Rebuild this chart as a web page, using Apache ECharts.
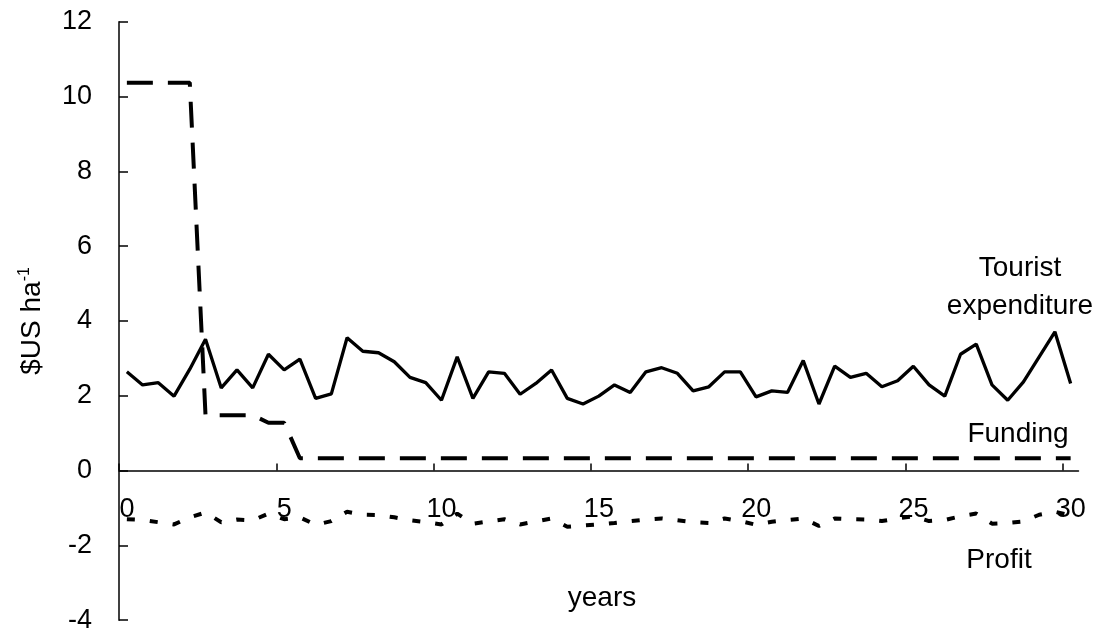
<!DOCTYPE html>
<html>
<head>
<meta charset="utf-8">
<script src="https://cdn.jsdelivr.net/npm/echarts@6/dist/echarts.min.js"></script>
<style>
html,body{margin:0;padding:0;background:#fff;}
#chart{width:1100px;height:633px;}
</style>
</head>
<body>
<div id="chart"></div>
<script>
var years = [0.25,0.75,1.25,1.75,2.25,2.75,3.25,3.75,4.25,4.75,
  5.25,5.75,6.25,6.75,7.25,7.75,8.25,8.75,9.25,9.75,
  10.25,10.75,11.25,11.75,12.25,12.75,13.25,13.75,14.25,14.75,
  15.25,15.75,16.25,16.75,17.25,17.75,18.25,18.75,19.25,19.75,
  20.25,20.75,21.25,21.75,22.25,22.75,23.25,23.75,24.25,24.75,
  25.25,25.75,26.25,26.75,27.25,27.75,28.25,28.75,29.25,29.75,
  30.25];
var touristExpenditure = [2.64,2.29,2.35,1.99,2.71,3.51,2.21,2.69,2.21,3.11,
  2.69,2.98,1.93,2.05,3.55,3.19,3.15,2.91,2.49,2.35,
  1.88,3.04,1.93,2.64,2.60,2.04,2.33,2.69,1.93,1.78,
  1.99,2.29,2.09,2.64,2.75,2.60,2.13,2.24,2.64,2.64,
  1.97,2.13,2.09,2.94,1.78,2.79,2.49,2.60,2.24,2.40,
  2.79,2.29,1.99,3.11,3.38,2.29,1.88,2.37,3.04,3.71,
  2.33];
var funding = [10.37,10.37,10.37,10.37,10.37,1.48,1.48,1.48,1.48,1.28,
  1.28,0.33,0.33,0.33,0.33,0.33,0.33,0.33,0.33,0.33,
  0.33,0.33,0.33,0.33,0.33,0.33,0.33,0.33,0.33,0.33,
  0.33,0.33,0.33,0.33,0.33,0.33,0.33,0.33,0.33,0.33,
  0.33,0.33,0.33,0.33,0.33,0.33,0.33,0.33,0.33,0.33,
  0.33,0.33,0.33,0.33,0.33,0.33,0.33,0.33,0.33,0.33,
  0.33];
var profit = [-1.30,-1.32,-1.38,-1.44,-1.25,-1.12,-1.38,-1.31,-1.33,-1.15,
  -1.30,-1.25,-1.45,-1.35,-1.10,-1.18,-1.19,-1.25,-1.33,-1.38,
  -1.44,-1.15,-1.42,-1.36,-1.30,-1.44,-1.36,-1.28,-1.50,-1.47,
  -1.44,-1.40,-1.35,-1.31,-1.28,-1.33,-1.38,-1.40,-1.28,-1.35,
  -1.45,-1.37,-1.32,-1.28,-1.48,-1.28,-1.30,-1.31,-1.35,-1.28,
  -1.22,-1.35,-1.32,-1.22,-1.15,-1.42,-1.40,-1.36,-1.18,-1.10,
  -1.20];
var xTicks = [0,5,10,15,20,25,30];
var yTicks = [-4,-2,0,2,4,6,8,10,12];
var seriesNames = ['Tourist expenditure','Funding','Profit'];

function pairs(vals){ return years.map(function(x,i){ return [x, vals[i]]; }); }

var FONT = '"Liberation Sans", Arial, sans-serif';
var GRID_TOP = 21.7, GRID_BOTTOM = 12.8, H = 633;
var yMin = -4, yMax = 12;
var plotH = H - GRID_TOP - GRID_BOTTOM;
// distance from the bottom edge of the grid to the zero line (for placing the x axis on zero)
var zeroOffset = -plotH * (0 - yMin) / (yMax - yMin);

var chart = echarts.init(document.getElementById('chart'), null, {renderer:'canvas'});
chart.setOption({
  animation:false,
  backgroundColor:'#fff',
  grid:{left:119, right:21.5, top:GRID_TOP, bottom:GRID_BOTTOM, containLabel:false, outerBoundsMode:'none'},
  xAxis:{
    type:'value', min:0, max:30.5, interval:5,
    position:'bottom', offset:zeroOffset,
    axisLine:{onZero:false, lineStyle:{color:'#000', width:1.5}},
    axisTick:{inside:true, length:7, lineStyle:{color:'#000', width:1.5}, customValues:xTicks},
    axisLabel:{color:'#000', fontSize:27, fontFamily:FONT, margin:25, padding:[0,0,0,16], customValues:xTicks},
    splitLine:{show:false}
  },
  yAxis:{
    type:'value', min:yMin, max:yMax, interval:2,
    name:'{a|$US ha}{b|-1}', nameLocation:'middle', nameGap:72, nameRotate:90,
    nameTextStyle:{rich:{a:{fontSize:28, fontFamily:FONT, color:'#000'}, b:{fontSize:16, fontFamily:FONT, color:'#000', padding:[0,0,14,0]}}},
    axisLine:{lineStyle:{color:'#000', width:1.5}},
    axisTick:{inside:true, length:9, lineStyle:{color:'#000', width:1.5}},
    axisLabel:{color:'#000', fontSize:27, fontFamily:FONT, margin:27},
    splitLine:{show:false}
  },
  series:[
    {name:seriesNames[0], type:'line', data:pairs(touristExpenditure), symbol:'none',
      lineStyle:{color:'#000', width:3.3}},
    {name:seriesNames[1], type:'line', data:pairs(funding), symbol:'none',
      lineStyle:{color:'#000', width:4, type:[26,15]}},
    {name:seriesNames[2], type:'line', data:pairs(profit), symbol:'none',
      lineStyle:{color:'#000', width:4, type:[8,15]}}
  ],
  graphic:[
    {type:'text', x:1020, y:268, style:{text:'Tourist', font:'28px '+FONT, fill:'#000', textAlign:'center', textVerticalAlign:'middle'}},
    {type:'text', x:1020, y:306, style:{text:'expenditure', font:'28px '+FONT, fill:'#000', textAlign:'center', textVerticalAlign:'middle'}},
    {type:'text', x:1018, y:434, style:{text:'Funding', font:'28px '+FONT, fill:'#000', textAlign:'center', textVerticalAlign:'middle'}},
    {type:'text', x:999, y:560, style:{text:'Profit', font:'28px '+FONT, fill:'#000', textAlign:'center', textVerticalAlign:'middle'}},
    {type:'text', x:602, y:598, style:{text:'years', font:'28px '+FONT, fill:'#000', textAlign:'center', textVerticalAlign:'middle'}}
  ]
});
</script>
</body>
</html>
